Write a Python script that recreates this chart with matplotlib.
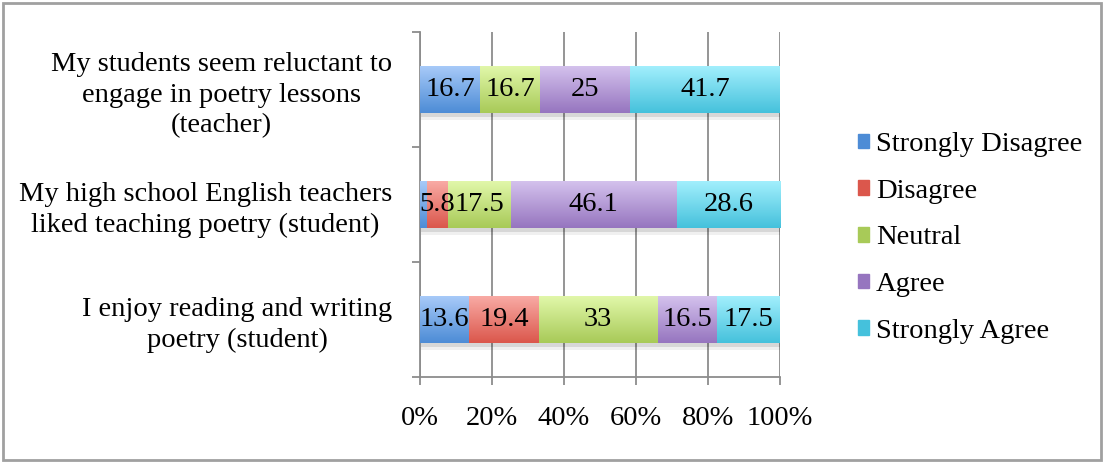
import matplotlib
matplotlib.use("Agg")
import matplotlib.pyplot as plt
import numpy as np
from matplotlib.colors import LinearSegmentedColormap
from matplotlib.patches import Rectangle

plt.rcParams['font.family'] = ['Liberation Serif', 'DejaVu Serif']

# Survey statements (bottom to top)
statements = [
    "I enjoy reading and writing\npoetry (student)",
    "My high school English teachers\nliked teaching poetry (student)",
    "My students seem reluctant to\nengage in poetry lessons\n(teacher)",
]
responses = ["Strongly Disagree", "Disagree", "Neutral", "Agree", "Strongly Agree"]

# Percentages per response, one value per statement (bottom to top)
strongly_disagree = [13.6, 1.9, 16.7]
disagree = [19.4, 5.8, 0.0]
neutral = [33.0, 17.5, 16.7]
agree = [16.5, 46.1, 25.0]
strongly_agree = [17.5, 28.6, 41.7]
series = [strongly_disagree, disagree, neutral, agree, strongly_agree]

x_ticks = [0, 20, 40, 60, 80, 100]
x_tick_labels = ["0%", "20%", "40%", "60%", "80%", "100%"]

# light (top) -> dark (bottom) shading of each response colour
shades = [
    ("#a9cbf9", "#4d8cd6"),
    ("#f9aca6", "#db574c"),
    ("#e2f8ab", "#a8ca58"),
    ("#d5c3ee", "#9675bf"),
    ("#a4f0fd", "#45c1dc"),
]

FS = 20.5
W, H = 1105, 462
fig = plt.figure(figsize=(W / 100, H / 100), dpi=100)
ax = fig.add_axes([420 / W, 1 - 377 / H, 360 / W, 345 / H])

data = np.array(series, dtype=float)
totals = data.sum(axis=0)
pct = data / totals * 100.0
ypos = np.arange(len(statements))
bar_h = 0.41

grad = np.linspace(0, 1, 64).reshape(-1, 1)
left = np.zeros(len(statements))
for k, name in enumerate(responses):
    vals = pct[k]
    cmap = LinearSegmentedColormap.from_list(name, [shades[k][0], shades[k][1]])
    mid = cmap(0.55)
    bars = ax.barh(ypos, vals, left=left, height=bar_h, color=mid,
                   edgecolor="none", label=name, zorder=3)
    for j, rect in enumerate(bars):
        w = vals[j]
        if w <= 0:
            continue
        x0 = left[j]
        y0 = ypos[j] - bar_h / 2
        # soft shadow under each segment
        for s, a in ((0.035, 0.10), (0.06, 0.06)):
            ax.add_patch(Rectangle((x0 + 0.3, y0 - s), w, bar_h, facecolor="#000000",
                                   alpha=a, edgecolor="none", zorder=2))
        im = ax.imshow(grad, cmap=cmap, aspect="auto", origin="upper",
                       extent=[x0, x0 + w, y0, y0 + bar_h], zorder=3.5,
                       interpolation="bilinear")
        im.set_clip_path(rect)
        label_val = series[k][j]
        if label_val >= 3:
            ax.text(x0 + w / 2, ypos[j], f"{label_val:g}", ha="center", va="center",
                    fontsize=FS, color="black", zorder=5)
    left = left + vals

ax.set_xlim(0, 100)
ax.set_ylim(-0.5, len(statements) - 0.5)

ax.set_xticks(x_ticks)
ax.set_xticklabels(x_tick_labels, fontsize=FS)
ax.tick_params(axis="x", direction="out", length=6, width=1.3, color="#8c8c8c", pad=15)

ax.set_yticks(ypos)
ax.set_yticklabels(statements, fontsize=FS, multialignment="center",
                   linespacing=1.28)
ax.set_yticks(np.arange(len(statements) + 1) - 0.5, minor=True)
ax.tick_params(axis="y", which="major", length=0, pad=20)
ax.tick_params(axis="y", which="minor", direction="out", length=6, width=1.3,
               color="#8c8c8c")

ax.grid(axis="x", color="#8c8c8c", linewidth=1.3, zorder=0)
ax.set_axisbelow(True)
for side in ("top", "right"):
    ax.spines[side].set_visible(False)
for side in ("left", "bottom"):
    ax.spines[side].set_color("#8c8c8c")
    ax.spines[side].set_linewidth(1.3)

handles, labels = ax.get_legend_handles_labels()
leg = fig.legend(handles, labels, loc="center left", bbox_to_anchor=(858 / W, 1 - 238 / H),
                 frameon=False, fontsize=FS, handlelength=0.4, handleheight=0.4,
                 handletextpad=0.22, labelspacing=0.76, borderaxespad=0, borderpad=0)
for h, (c0, c1) in zip(leg.legend_handles, shades):
    h.set_color(c1)

# chart frame
fig.patches.append(Rectangle((3 / W, 2 / H), 1 - 7 / W, 1 - 5 / H, transform=fig.transFigure,
                             fill=False, edgecolor="#a0a0a0", linewidth=2))

fig.savefig("out.png", dpi=100)
